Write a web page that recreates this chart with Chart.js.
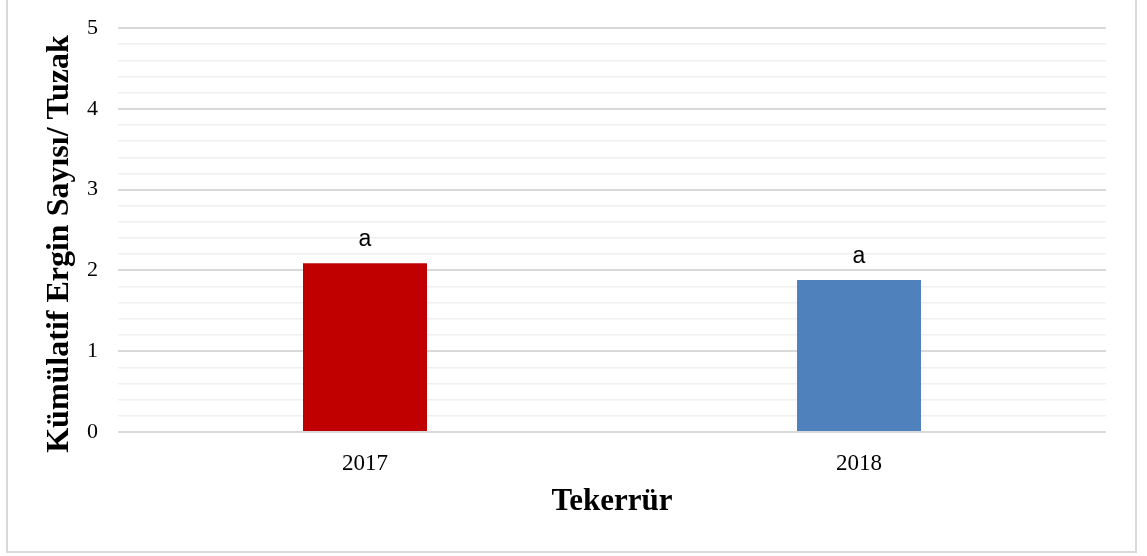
<!DOCTYPE html>
<html>
<head>
<meta charset="utf-8">
<script src="https://cdn.jsdelivr.net/npm/chart.js@4"></script>
<style>
  html, body { margin: 0; padding: 0; background: #fff; }
  #wrap { position: relative; width: 1147px; height: 556px; overflow: hidden; }
  #frame {
    position: absolute; left: 6px; top: -4px; width: 1131px; height: 557px;
    border: 2px solid #d9d9d9; box-sizing: border-box;
  }
  canvas { position: absolute; left: 0; top: 0; }
</style>
</head>
<body>
<div id="wrap">
  <div id="frame"></div>
  <canvas id="chart" width="1147" height="556"></canvas>
</div>
<script>
// ================= DATA =================
const years = ["2017", "2018"];
const values = [2.09, 1.88];
const letters = ["a", "a"];
const barColors = ["#C00000", "#4F81BD"];

const yTitle = "Kümülatif Ergin Sayısı/ Tuzak";
const xTitle = "Tekerrür";

// ================= HELPERS =================
function isWhole(v) {
  return Math.abs(v - Math.round(v)) < 1e-6;
}

// letters above bars + rotated y title
const extras = {
  id: "extras",
  afterDatasetsDraw(chart) {
    const ctx = chart.ctx;
    const meta = chart.getDatasetMeta(0);
    ctx.save();
    ctx.fillStyle = "#000";
    ctx.font = "23px 'Liberation Sans', Arial, sans-serif";
    ctx.textAlign = "center";
    ctx.textBaseline = "alphabetic";
    meta.data.forEach((bar, i) => {
      ctx.fillText(letters[i], bar.x, bar.y - 17);
    });
    ctx.restore();

    ctx.save();
    ctx.translate(60, 244);
    ctx.rotate(-Math.PI / 2);
    ctx.font = "bold 32px 'Liberation Serif', 'Times New Roman', serif";
    ctx.textAlign = "center";
    ctx.textBaseline = "middle";
    ctx.fillStyle = "#000";
    ctx.fillText(yTitle, 0, 0);
    ctx.restore();
  }
};

// ================= CHART =================
new Chart(document.getElementById("chart"), {
  type: "bar",
  data: {
    labels: years,
    datasets: [{
      data: values,
      backgroundColor: barColors,
      borderWidth: 0,
      barPercentage: 1,
      categoryPercentage: 0.251
    }]
  },
  options: {
    responsive: false,
    animation: false,
    layout: { padding: { top: 28, right: 41, left: 0, bottom: 0 } },
    plugins: {
      legend: { display: false },
      tooltip: { enabled: false }
    },
    scales: {
      x: {
        afterFit: s => { s.height = 124; },
        grid: { display: false },
        border: { display: false },
        ticks: {
          color: "#000",
          padding: 10,
          font: { family: "'Liberation Serif', 'Times New Roman', serif", size: 23 }
        },
        title: {
          display: true,
          text: xTitle,
          color: "#000",
          padding: { top: 0, bottom: 35 },
          font: { family: "'Liberation Serif', 'Times New Roman', serif", size: 31, weight: "bold" }
        }
      },
      y: {
        min: 0,
        max: 5,
        afterFit: s => { s.width = 118; },
        border: { display: false },
        grid: {
          drawTicks: true,
          tickLength: 16,
          tickColor: "rgba(0,0,0,0)",
          color: c => isWhole(c.tick.value) ? "#d9d9d9" : "#f0f0f0",
          lineWidth: c => isWhole(c.tick.value) ? 2 : 1.5
        },
        ticks: {
          stepSize: 0.2,
          autoSkip: false,
          color: "#000",
          padding: 4,
          font: { family: "'Liberation Serif', 'Times New Roman', serif", size: 22 },
          callback: v => isWhole(v) ? String(Math.round(v)) : ""
        }
      }
    }
  },
  plugins: [extras]
});
</script>
</body>
</html>
